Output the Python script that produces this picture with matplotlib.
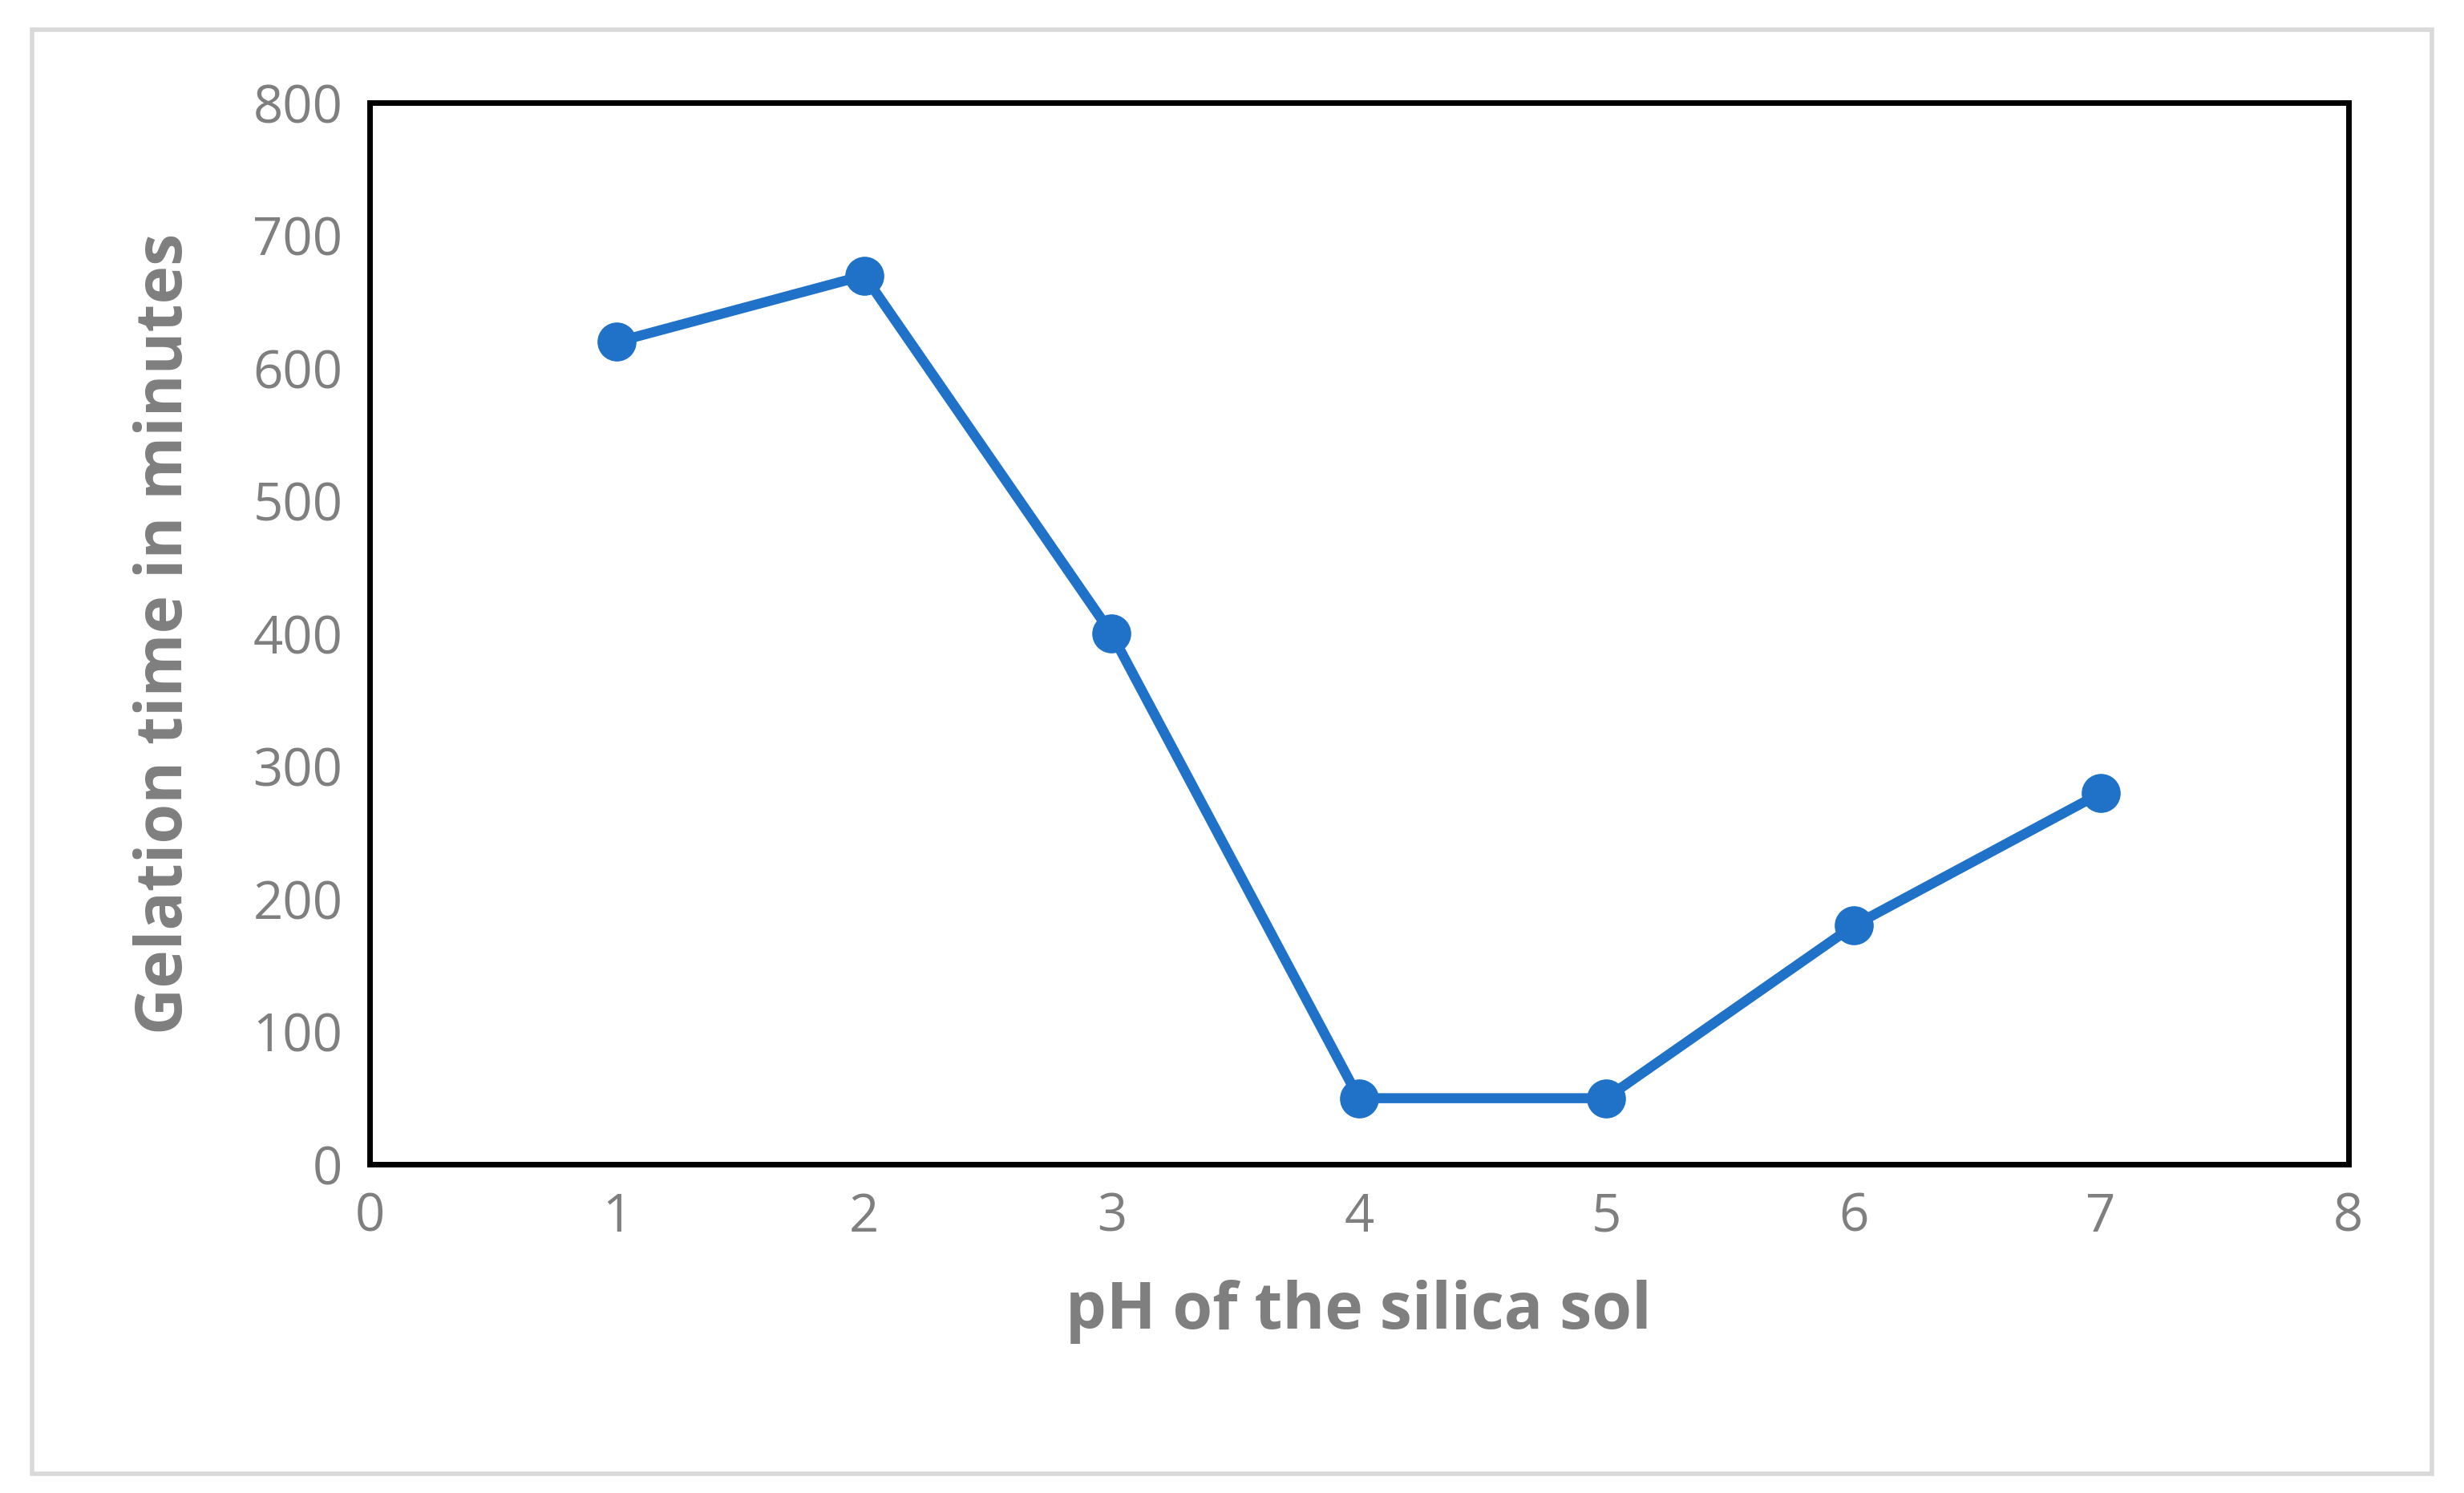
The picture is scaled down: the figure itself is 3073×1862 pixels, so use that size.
import matplotlib
matplotlib.use("Agg")
import matplotlib.pyplot as plt
from matplotlib.patches import Rectangle

ph = [1, 2, 3, 4, 5, 6, 7]
gel_time = [620, 670, 400, 50, 50, 180, 280]
xticks = [0, 1, 2, 3, 4, 5, 6, 7, 8]
yticks = [0, 100, 200, 300, 400, 500, 600, 700, 800]

plt.rcParams['font.family'] = ['Open Sans', 'DejaVu Sans']
fig = plt.figure(figsize=(30.73, 18.62), dpi=100)
fig.patches.append(Rectangle((0.013, 0.013), 0.974, 0.967, transform=fig.transFigure,
                             fill=False, edgecolor='#d9d9d9', linewidth=4))
ax = fig.add_axes([0.150, 0.220, 0.803, 0.711])
ax.plot(ph, gel_time, color='#1f72c8', linewidth=9, marker='o', markersize=34, zorder=3)
ax.set_xlim(0, 8)
ax.set_ylim(0, 800)
ax.set_xticks(xticks)
ax.set_yticks(yticks)
ax.tick_params(length=0, labelsize=47, labelcolor='#7f7f7f', pad=24)
for s in ax.spines.values():
    s.set_linewidth(5)
    s.set_color('black')
ax.set_xlabel('pH of the silica sol', fontsize=58, fontweight='bold', color='#7f7f7f', labelpad=32)
ax.set_ylabel('Gelation time in minutes', fontsize=58, fontweight='bold', color='#7f7f7f', labelpad=50)
fig.savefig('out.png', dpi=100)
